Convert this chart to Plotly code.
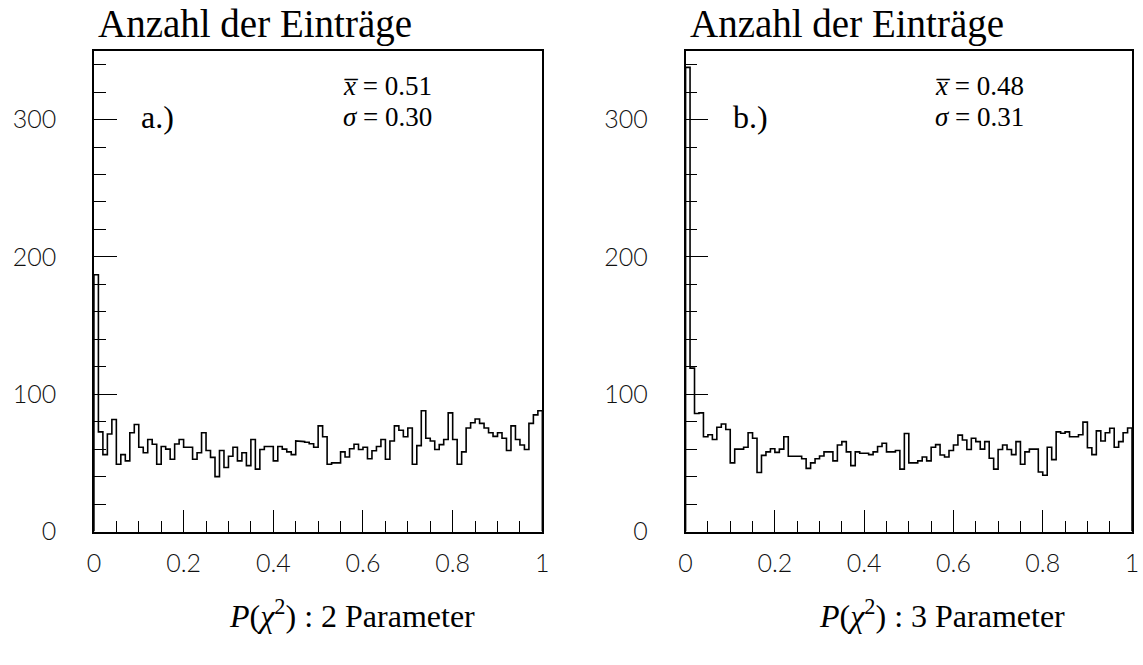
import numpy as np
import plotly.graph_objects as go

W, H = 1143, 665

# Counts per bin (100 equal bins on [0, 1]) for the two fits
counts_2par = [
    187, 72.6, 56, 71, 81.6, 49, 56, 51.5, 72, 78,
    61.4, 57.4, 67, 63.6, 49, 62, 60, 52.7, 63.8, 67,
    61.4, 61.4, 52.7, 57.4, 72, 59, 54, 40, 59, 46.7,
    54.8, 61.4, 51.5, 57.4, 48, 67, 45.5, 59.8, 62, 62,
    51.5, 62, 60, 58, 56, 66, 65.5, 65, 64, 61.4,
    77, 69, 49, 50, 50, 58, 54.3, 60.3, 63.6, 59.8,
    61.4, 53, 58.8, 62, 67, 52.7, 66, 77, 73.8, 69,
    75.4, 49, 62.6, 88, 67.9, 66, 59.8, 63.3, 67, 86.4,
    67, 49, 58, 75.4, 79.2, 82, 78.8, 75.4, 72, 69.3,
    72, 68, 59, 77, 67, 63, 59.8, 78.8, 85, 88,
]
counts_3par = [
    338, 119, 86, 86.4, 69, 70.5, 67, 76, 78.3, 74.3,
    50, 60, 60, 61.4, 72, 68, 43, 55.5, 58, 60.3,
    57.7, 60, 69, 54.8, 54.8, 54.8, 53, 46, 50, 53,
    55, 58, 58, 51.5, 63, 65.5, 58, 48, 58, 57,
    57, 56, 58, 62, 64.3, 58, 58, 59, 45.5, 71.4,
    50, 50, 51.5, 54.3, 51.5, 61.4, 63.3, 55.8, 54.3, 59,
    63, 70.2, 66.7, 59.8, 68, 65.5, 60, 65.5, 53.4, 45.5,
    59.8, 63, 59.8, 56, 65.5, 49, 58, 60, 60, 43.4,
    41, 61.4, 52.4, 72.6, 71.6, 72.6, 69, 69, 70.5, 79.7,
    61, 56, 73.3, 66, 72, 75.2, 61.4, 65.5, 72, 75.4,
]

panel_labels = ["a.)", "b.)"]
means = ["0.51", "0.48"]
sigmas = ["0.30", "0.31"]
n_params = ["2", "3"]
x_ticks = [0, 0.2, 0.4, 0.6, 0.8, 1]
x_ticktext = ["0", "0.2", "0.4", "0.6", "0.8", "1"]
y_ticks = [0, 100, 200, 300]

SERIF = "Liberation Serif"
SANS = "Lato"

# plot frames in pixels: (left, right) for each panel, shared top/bottom
frames_x = [(88, 542), (687, 1139)]
frame_top, frame_bottom = 52, 543


def px_x(x):
    return x / W


def px_y(y):
    return 1 - y / H


def step_outline(counts):
    n = len(counts)
    edges = np.linspace(0, 1, n + 1)
    xs = [0.0]
    ys = [0.0]
    for i, c in enumerate(counts):
        xs += [edges[i], edges[i + 1]]
        ys += [c, c]
    xs.append(1.0)
    ys.append(0.0)
    return xs, ys


fig = go.Figure()

for k, counts in enumerate([counts_2par, counts_3par]):
    xs, ys = step_outline(counts)
    suffix = "" if k == 0 else "2"
    fig.add_trace(go.Scatter(
        x=xs, y=ys, mode="lines",
        line=dict(color="black", width=1.6),
        xaxis="x" + suffix, yaxis="y" + suffix,
        showlegend=False, hoverinfo="skip",
    ))

axis_common = dict(
    showgrid=False, zeroline=False,
    showline=True, linecolor="black", linewidth=1.5, mirror=True,
    ticks="inside", tickcolor="black", tickwidth=1.2,
    tickfont=dict(family=SANS, size=25, color="#111", weight=300),
)

layout = dict(
    width=W, height=H,
    margin=dict(l=0, r=0, t=0, b=0),
    paper_bgcolor="white", plot_bgcolor="white",
    showlegend=False,
)

for k, (l, r) in enumerate(frames_x):
    suffix = "" if k == 0 else "2"
    xa = dict(axis_common)
    xa.update(
        domain=[px_x(l), px_x(r)], range=[0, 1],
        tickvals=x_ticks, ticktext=x_ticktext, ticklen=22,
        ticklabelstandoff=9,
        minor=dict(ticks="inside", dtick=0.05, ticklen=11,
                   tickcolor="black", tickwidth=1.2),
        anchor="y" + suffix,
    )
    ya = dict(axis_common)
    ya.update(
        domain=[px_y(frame_bottom), px_y(frame_top)], range=[0, 350],
        tickvals=y_ticks, ticklen=23, ticklabelstandoff=31,
        minor=dict(ticks="inside", dtick=20, ticklen=12,
                   tickcolor="black", tickwidth=1.2),
        anchor="x" + suffix,
    )
    layout["xaxis" + suffix] = xa
    layout["yaxis" + suffix] = ya

fig.update_layout(**layout)

annotations = []
for k, (l, r) in enumerate(frames_x):
    # panel heading
    annotations.append(dict(
        text="Anzahl der Einträge", x=px_x(l + 2), y=px_y(25),
        xref="paper", yref="paper", xanchor="left", yanchor="middle",
        showarrow=False, font=dict(family=SERIF, size=39, color="black"),
    ))
    # panel tag
    annotations.append(dict(
        text=panel_labels[k], x=px_x(l + 46), y=px_y(120),
        xref="paper", yref="paper", xanchor="left", yanchor="middle",
        showarrow=False, font=dict(family=SERIF, size=32, color="black"),
    ))
    # mean and width of the distribution
    annotations.append(dict(
        text="<i>x\u0305</i> = " + means[k], x=px_x(l + 250), y=px_y(88),
        xref="paper", yref="paper", xanchor="left", yanchor="middle",
        showarrow=False, font=dict(family=SERIF, size=27, color="black"),
    ))
    annotations.append(dict(
        text="<i>σ</i> = " + sigmas[k], x=px_x(l + 250), y=px_y(120),
        xref="paper", yref="paper", xanchor="left", yanchor="middle",
        showarrow=False, font=dict(family=SERIF, size=27, color="black"),
    ))
    # x-axis title
    annotations.append(dict(
        text="<i>P</i>(<i>χ</i><sup>2</sup>) : " + n_params[k] + " Parameter",
        x=px_x((l + r) / 2 + 34), y=px_y(627),
        xref="paper", yref="paper", xanchor="center", yanchor="middle",
        showarrow=False, font=dict(family=SERIF, size=32, color="black"),
    ))

fig.update_layout(annotations=annotations)

fig.write_html("out.html")
